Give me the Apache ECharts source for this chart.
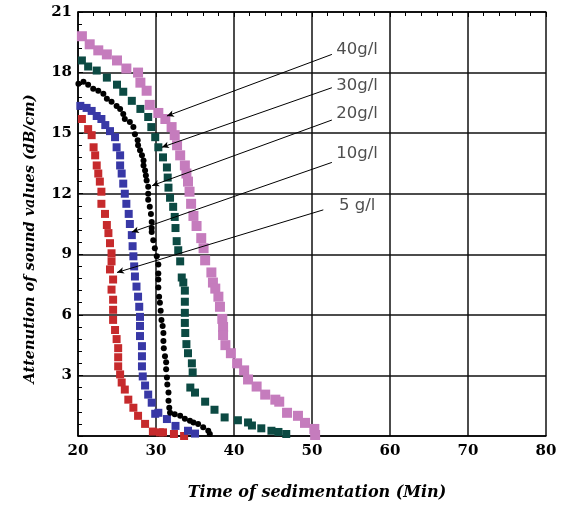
<!DOCTYPE html>
<html>
<head>
<meta charset="utf-8">
<script src="https://cdn.jsdelivr.net/npm/echarts@6/dist/echarts.min.js"></script>
<style>
html,body{margin:0;padding:0;background:#fff;}
#chart{width:562px;height:506px;}
</style>
</head>
<body>
<div id="chart"></div>
<script>
// readings: [time (min), attenuation (dB/cm)]
var s5 = [[20.5,15.7],[21.3,15.2],[21.75,14.9],[22.0,14.3],[22.2,13.9],[22.4,13.4],[22.6,13.0],[22.8,12.6],[23.0,12.1],[23.0,11.5],[23.46,11.0],[23.7,10.45],[23.9,10.05],[24.1,9.55],[24.3,9.05],[24.3,8.65],[24.1,8.25],[24.5,7.75],[24.3,7.25],[24.5,6.75],[24.5,6.25],[24.5,5.75],[24.75,5.25],[24.95,4.8],[25.15,4.35],[25.15,3.9],[25.15,3.45],[25.4,3.05],[25.6,2.65],[26.0,2.3],[26.45,1.8],[27.1,1.4],[27.7,1.0],[28.6,0.6],[29.6,0.22],[30.5,0.18],[30.9,0.18],[32.3,0.1],[33.6,0.0]];
var s10 = [[20.3,16.35],[21.1,16.25],[21.75,16.1],[22.4,15.85],[23.0,15.7],[23.5,15.4],[24.1,15.1],[24.75,14.8],[24.95,14.3],[25.4,13.9],[25.4,13.4],[25.6,13.0],[25.8,12.5],[26.0,12.0],[26.2,11.5],[26.5,11.0],[26.65,10.5],[26.9,9.95],[27.0,9.4],[27.1,8.9],[27.2,8.4],[27.3,7.9],[27.5,7.4],[27.7,6.9],[27.85,6.4],[27.95,5.9],[27.95,5.45],[27.95,4.95],[28.2,4.45],[28.2,3.95],[28.2,3.45],[28.3,2.95],[28.6,2.5],[29.0,2.05],[29.45,1.65],[29.9,1.1],[30.3,1.15],[31.4,0.84],[32.5,0.5],[34.1,0.26],[35.0,0.12]];
var s20 = [[20.05,17.45],[20.7,17.55],[21.3,17.4],[21.95,17.2],[22.6,17.1],[23.25,16.95],[23.7,16.7],[24.3,16.55],[24.95,16.35],[25.4,16.2],[25.8,15.95],[26.0,15.7],[26.65,15.55],[27.1,15.3],[27.3,14.95],[27.65,14.65],[27.7,14.4],[27.95,14.15],[28.2,13.9],[28.4,13.65],[28.4,13.4],[28.6,13.15],[28.7,12.9],[28.8,12.65],[29.0,12.35],[29.0,12.0],[29.0,11.7],[29.2,11.35],[29.35,11.0],[29.45,10.6],[29.45,10.3],[29.45,10.1],[29.65,9.7],[29.85,9.3],[30.1,8.9],[30.3,8.5],[30.3,8.05],[30.3,7.75],[30.3,7.35],[30.4,6.9],[30.5,6.6],[30.6,6.2],[30.7,5.75],[30.85,5.45],[30.95,5.1],[30.95,4.7],[31.0,4.35],[31.15,3.95],[31.3,3.65],[31.3,3.3],[31.4,2.9],[31.45,2.55],[31.6,2.15],[31.6,1.75],[31.7,1.4],[31.8,1.15],[32.4,1.08],[33.1,1.0],[33.7,0.85],[34.35,0.75],[34.8,0.67],[35.4,0.6],[36.05,0.43],[36.7,0.26],[36.9,0.1]];
var s30 = [[20.5,18.6],[21.3,18.3],[22.4,18.1],[23.7,17.75],[25.0,17.4],[25.8,17.05],[26.9,16.6],[28.0,16.2],[29.0,15.8],[29.4,15.3],[29.9,14.8],[30.3,14.3],[30.9,13.8],[31.4,13.3],[31.5,12.8],[31.6,12.3],[31.8,11.8],[32.2,11.35],[32.4,10.85],[32.5,10.3],[32.65,9.65],[32.85,9.2],[33.1,8.65],[33.3,7.85],[33.5,7.6],[33.7,7.2],[33.7,6.65],[33.7,6.1],[33.7,5.6],[33.75,5.1],[33.9,4.55],[34.1,4.1],[34.6,3.6],[34.7,3.15],[34.4,2.4],[35.0,2.15],[36.3,1.7],[37.5,1.3],[38.8,0.92],[40.5,0.78],[41.8,0.67],[42.3,0.52],[43.5,0.38],[44.8,0.26],[45.7,0.2],[46.7,0.1]];
var s40 = [[20.5,19.8],[21.5,19.4],[22.6,19.1],[23.7,18.9],[25.0,18.6],[26.2,18.2],[27.7,18.0],[28.0,17.5],[28.8,17.1],[29.2,16.4],[30.3,16.0],[31.2,15.7],[32.0,15.3],[32.4,14.9],[32.7,14.4],[33.1,13.9],[33.7,13.4],[33.9,13.0],[34.1,12.6],[34.3,12.1],[34.5,11.5],[34.8,10.9],[35.2,10.4],[35.8,9.8],[36.1,9.3],[36.3,8.7],[37.1,8.1],[37.3,7.6],[37.6,7.3],[38.0,6.9],[38.2,6.4],[38.5,5.8],[38.6,5.4],[38.6,5.0],[38.9,4.5],[39.6,4.1],[40.4,3.6],[41.3,3.25],[41.8,2.8],[42.9,2.45],[44.0,2.05],[45.3,1.8],[45.8,1.7],[46.8,1.15],[48.2,1.0],[49.1,0.65],[50.3,0.35],[50.4,0.05]];

var tagNames = ['40g/l','30g/l','20g/l','10g/l','5 g/l'];
var tagPos = [[53.1,19.15],[53.1,17.35],[53.1,15.95],[53.1,14.0],[53.45,11.4]];
var arrowFrom = [[52.55,18.9],[52.55,17.25],[52.55,15.65],[52.55,13.55],[51.45,11.2]];
var arrowTo = [[31.4,15.85],[30.75,14.3],[29.5,12.4],[26.9,10.1],[25.0,8.1]];

var xTicks = [20,30,40,50,60,70,80];
var yTicks = [0,3,6,9,12,15,18,21];

var myChart = echarts.init(document.getElementById('chart'));

var serifBold = {fontFamily:'DejaVu Serif', fontWeight:'bold', fontSize:15, color:'#000'};

function dots(name, data, color, size, symbol){
	return {
		name: name,
		type: 'scatter',
		data: data,
		symbol: symbol,
		symbolSize: size,
		itemStyle: {color: color, opacity: 1},
		z: 3
	};
}

var arrowLines = [];
for (var i = 0; i < arrowFrom.length; i++) {
	arrowLines.push([
		{coord: arrowFrom[i], symbol: 'none'},
		{coord: arrowTo[i], symbol: 'arrow', symbolSize: [5,7]}
	]);
}

var tagData = [];
for (var k = 0; k < tagNames.length; k++) {
	tagData.push({name: tagNames[k], value: tagPos[k]});
}

var option = {
	backgroundColor: '#fff',
	animation: false,
	grid: {left: 78, right: 16, top: 12, bottom: 69},
	xAxis: [{
		type: 'value',
		min: xTicks[0],
		max: xTicks[xTicks.length-1],
		interval: 10,
		name: 'Time of sedimentation (Min)',
		nameLocation: 'middle',
		nameGap: 49,
		nameTextStyle: {fontFamily:'DejaVu Serif', fontWeight:'bold', fontStyle:'italic', fontSize:16, color:'#000', padding:[0,0,0,10]},
		axisLine: {lineStyle: {color:'#000', width:1.5}},
		axisTick: {show: false},
		axisLabel: Object.assign({margin: 8}, serifBold),
		splitLine: {show: true, lineStyle: {color:'#111', width:1.5}}
	}, {
		type: 'value',
		position: 'top',
		min: xTicks[0],
		max: xTicks[xTicks.length-1],
		interval: 10,
		axisLine: {show: true, lineStyle: {color:'#000', width:1.5}},
		axisTick: {show: true, inside: true, length: 5, lineStyle: {color:'#000'}},
		minorTick: {show: true, splitNumber: 5, length: 4, lineStyle: {color:'#000'}},
		axisLabel: {show: false},
		splitLine: {show: false}
	}],
	yAxis: {
		type: 'value',
		min: yTicks[0],
		max: yTicks[yTicks.length-1],
		interval: 3,
		name: 'Attenution of sound values (dB/cm)',
		nameLocation: 'middle',
		nameGap: 40,
		nameTextStyle: {fontFamily:'DejaVu Serif', fontWeight:'bold', fontStyle:'italic', fontSize:14.5, color:'#000', padding:[0,30,0,0]},
		axisLine: {show: true, lineStyle: {color:'#000', width:1.5}},
		axisTick: {show: true, inside: true, length: 5, lineStyle: {color:'#000'}},
		minorTick: {show: true, splitNumber: 5, length: 4, lineStyle: {color:'#000'}},
		axisLabel: Object.assign({margin: 6, showMinLabel: false}, serifBold),
		splitLine: {show: true, lineStyle: {color:'#111', width:1.5}}
	},
	series: [
		dots('5g/l', s5, '#c62a2c', 8, 'rect'),
		dots('10g/l', s10, '#3838a6', 8, 'rect'),
		dots('20g/l', s20, '#000000', 6, 'circle'),
		dots('30g/l', s30, '#0c4a43', 8, 'rect'),
		dots('40g/l', s40, '#c57cbd', 10, 'rect'),
		{
			name: 'tags',
			type: 'scatter',
			data: tagData,
			symbolSize: 0,
			silent: true,
			z: 5,
			label: {
				show: true,
				position: 'right',
				distance: 0,
				formatter: '{b}',
				fontFamily: 'DejaVu Sans',
				fontSize: 16.5,
				color: '#222'
			},
			markLine: {
				silent: true,
				animation: false,
				label: {show: false},
				lineStyle: {color:'#000', width:1, type:'solid'},
				data: arrowLines
			}
		}
	]
};
myChart.setOption(option, true);
</script>
</body>
</html>
